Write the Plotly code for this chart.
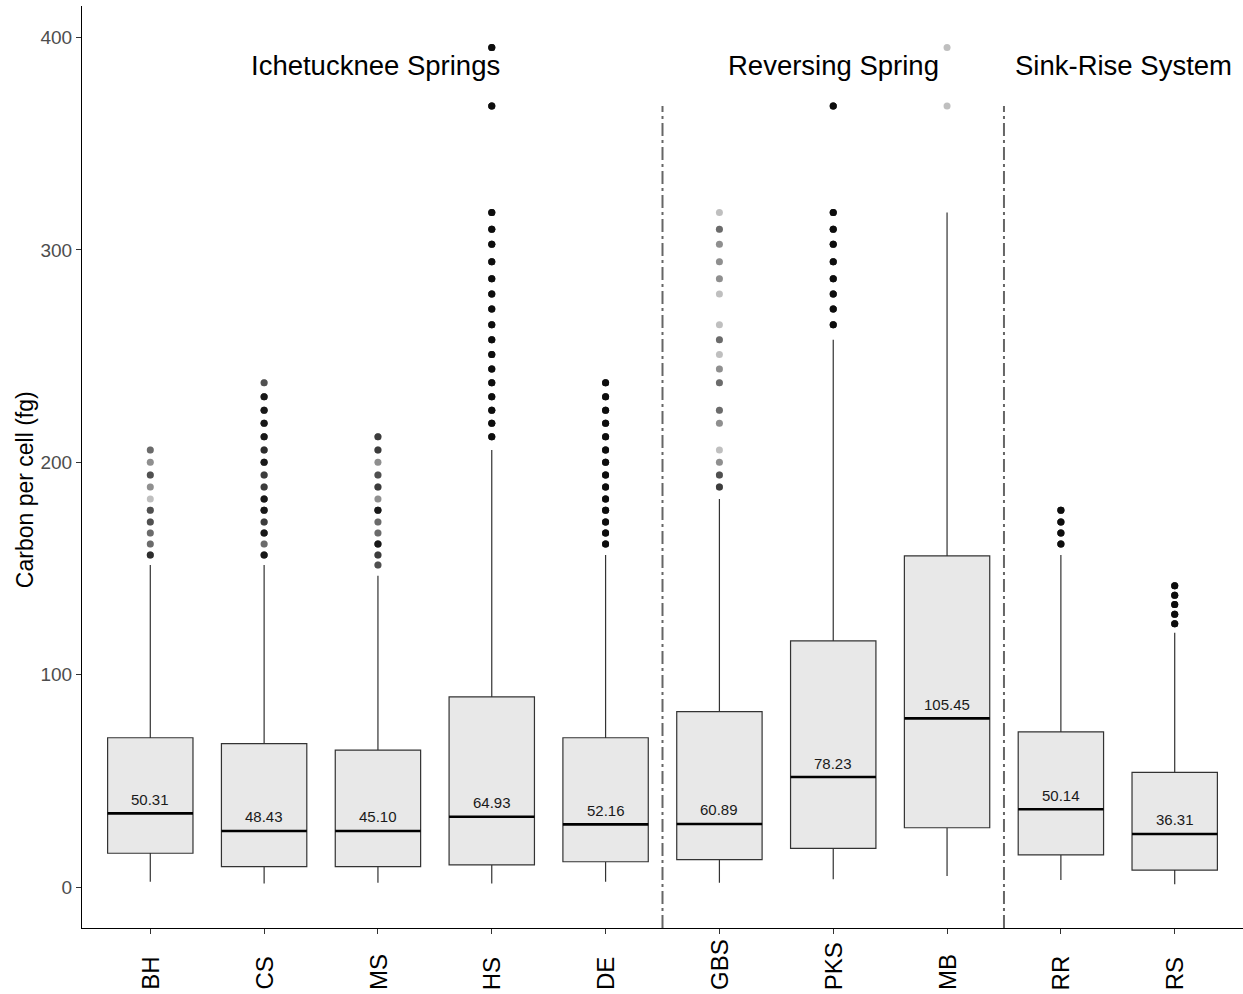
import plotly.graph_objects as go

# ---------------- data ----------------
sites = ["BH", "CS", "MS", "HS", "DE", "GBS", "PKS", "MB", "RR", "RS"]
q1 = [15.9, 9.6, 9.6, 10.4, 11.9, 12.9, 18.2, 27.9, 15.1, 8.0]
median = [34.7, 26.4, 26.4, 33.1, 29.5, 29.7, 51.8, 79.4, 36.6, 25.0]
q3 = [70.3, 67.5, 64.5, 89.5, 70.3, 82.6, 115.9, 155.9, 73.1, 54.0]
lower_whisker = [2.5, 1.7, 2.0, 1.7, 2.5, 2.0, 3.6, 5.2, 3.3, 1.3]
upper_whisker = [151.7, 151.7, 146.6, 205.8, 156.4, 182.7, 257.7, 317.6, 156.4, 119.8]
mean_labels = ["50.31", "48.43", "45.10", "64.93", "52.16", "60.89", "78.23", "105.45", "50.14", "36.31"]

# outliers: values and number of overlapping observations at each value
out_BH = [156.4, 161.5, 166.7, 171.9, 177.4, 182.7, 188.4, 194.0, 200.0, 205.8]
cnt_BH = [6, 3, 3, 4, 4, 1, 2, 4, 2, 3]
out_CS = [156.4, 161.5, 166.7, 171.9, 177.4, 182.7, 188.4, 194.0, 200.0, 205.8,
          212.1, 218.4, 224.5, 230.9, 237.5]
cnt_CS = [8, 3, 8, 5, 8, 8, 5, 5, 8, 6, 8, 8, 8, 8, 4]
out_MS = [151.7, 156.4, 161.5, 166.7, 171.9, 177.4, 182.7, 188.4, 194.0, 200.0, 205.8, 212.1]
cnt_MS = [4, 5, 8, 3, 3, 8, 2, 5, 4, 2, 5, 5]
out_HS = [212.1, 218.4, 224.5, 230.9, 237.5, 243.9, 250.8, 257.7, 264.8, 272.2,
          279.3, 286.5, 294.5, 302.7, 309.8, 317.6, 367.8, 395.4]
cnt_HS = [10] * 18
out_DE = [161.5, 166.7, 171.9, 177.4, 182.7, 188.4, 194.0, 200.0, 205.8, 212.1,
          218.4, 224.5, 230.9, 237.5]
cnt_DE = [10] * 14
out_GBS = [188.4, 194.0, 200.0, 205.8, 218.4, 224.5, 237.5, 243.9, 250.8, 257.7,
           264.8, 279.3, 286.5, 294.5, 302.7, 309.8, 317.6]
cnt_GBS = [5, 4, 2, 1, 2, 3, 3, 2, 1, 3, 1, 1, 2, 2, 2, 3, 1]
out_PKS = [264.8, 272.2, 279.3, 286.5, 294.5, 302.7, 309.8, 317.6, 367.8]
cnt_PKS = [10] * 9
out_MB = [367.8, 395.4]
cnt_MB = [1, 1]
out_RR = [161.5, 166.7, 171.9, 177.4]
cnt_RR = [10] * 4
out_RS = [124.0, 128.4, 133.0, 137.4, 141.9]
cnt_RS = [10] * 5

outliers = [(out_BH, cnt_BH), (out_CS, cnt_CS), (out_MS, cnt_MS), (out_HS, cnt_HS),
            (out_DE, cnt_DE), (out_GBS, cnt_GBS), (out_PKS, cnt_PKS), (out_MB, cnt_MB),
            (out_RR, cnt_RR), (out_RS, cnt_RS)]

group_names = ["Ichetucknee Springs", "Reversing Spring", "Sink-Rise System"]
group_centers = [2.98, 7, 9.55]
group_label_y = 387
separators = [5.5, 8.5]
separator_top = 367.8
y_ticks = [0, 100, 200, 300, 400]

# ---------------- figure ----------------
FONT = "Liberation Sans, Arial, Helvetica, sans-serif"
xpos = list(range(1, len(sites) + 1))
BOXW = 0.75

fig = go.Figure()

fig.add_trace(go.Box(
    x=xpos, q1=q1, median=median, q3=q3,
    lowerfence=lower_whisker, upperfence=upper_whisker,
    width=BOXW, whiskerwidth=0, boxpoints=False,
    fillcolor="#e8e8e8", line=dict(color="#333333", width=1.2),
    showlegend=False, hoverinfo="skip",
))

# thick median lines
mx, my = [], []
for xi, m in zip(xpos, median):
    mx += [xi - BOXW / 2, xi + BOXW / 2, None]
    my += [m, m, None]
fig.add_trace(go.Scatter(x=mx, y=my, mode="lines",
                         line=dict(color="#000000", width=2.6),
                         showlegend=False, hoverinfo="skip"))

# outliers (overlapping semi-transparent points)
px, py = [], []
for xi, (vals, cnts) in zip(xpos, outliers):
    for v, c in zip(vals, cnts):
        px += [xi] * c
        py += [v] * c
fig.add_trace(go.Scatter(x=px, y=py, mode="markers",
                         marker=dict(color="#000000", size=7, opacity=0.25, line=dict(width=0)),
                         showlegend=False, hoverinfo="skip"))

# mean labels
for xi, m, lab in zip(xpos, median, mean_labels):
    fig.add_annotation(x=xi, y=m, text=lab, showarrow=False, yshift=14,
                       xanchor="center", yanchor="middle",
                       font=dict(family=FONT, size=15, color="#1a1a1a"))

# group labels
for name, cx in zip(group_names, group_centers):
    fig.add_annotation(x=cx, y=group_label_y, text=name, showarrow=False,
                       xanchor="center", yanchor="middle",
                       font=dict(family=FONT, size=27.5, color="#000000"))

# category labels (rotated, bottom-aligned like the reference)
for xi, s in zip(xpos, sites):
    fig.add_annotation(x=xi, xref="x", y=0, yref="paper", text=s, showarrow=False,
                       textangle=-90, xanchor="center", yanchor="bottom", yshift=-64,
                       font=dict(family=FONT, size=24, color="#000000"))

YMIN, YMAX = -19.3, 414.9
for s in separators:
    fig.add_shape(type="line", x0=s, x1=s, y0=YMIN, y1=separator_top,
                  xref="x", yref="y",
                  line=dict(color="#666666", width=2, dash="13px,4px,3px,4px"))

# y-axis title
fig.add_annotation(xref="paper", yref="paper", x=-0.049, y=0.475,
                   text="Carbon per cell (fg)", textangle=-90, showarrow=False,
                   xanchor="center", yanchor="middle",
                   font=dict(family=FONT, size=23, color="#000000"))

fig.update_layout(
    width=1243, height=994,
    margin=dict(l=82, r=0, t=6, b=66, autoexpand=False),
    paper_bgcolor="white", plot_bgcolor="white",
    font=dict(family=FONT),
    showlegend=False,
)
fig.update_xaxes(
    range=[0.4, 10.6], tickmode="array", tickvals=xpos, showticklabels=False,
    automargin=False,
    showline=True, linecolor="#000000", linewidth=1.2,
    ticks="outside", ticklen=5, tickcolor="#333333",
    showgrid=False, zeroline=False,
)
fig.update_yaxes(
    range=[YMIN, YMAX], tickmode="array", tickvals=y_ticks,
    automargin=False,
    tickfont=dict(family=FONT, size=19, color="#4d4d4d"),
    showline=True, linecolor="#000000", linewidth=1.2,
    ticks="outside", ticklen=5, tickcolor="#333333",
    showgrid=False, zeroline=False,
)

fig.write_html(
    "out.html",
    config={"displayModeBar": False},
    post_script="document.body.style.margin='0';document.body.style.overflow='hidden';",
)
